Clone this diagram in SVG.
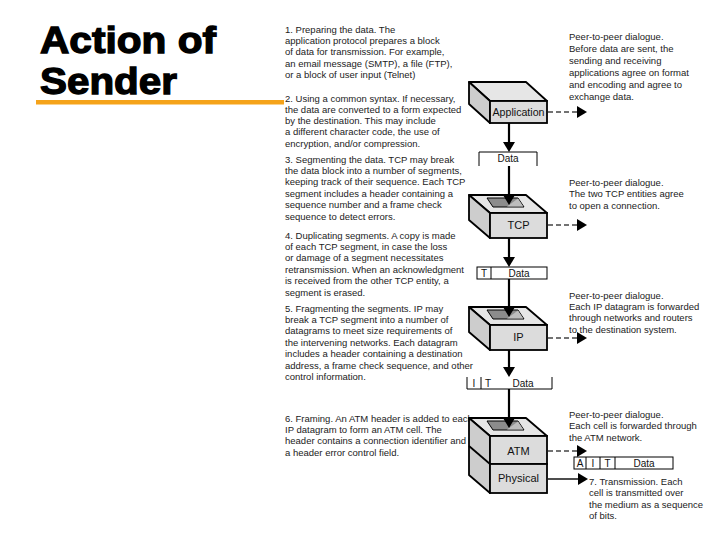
<svg xmlns="http://www.w3.org/2000/svg" width="720" height="540" viewBox="0 0 720 540">
<style>
.t{font-family:"Liberation Sans",Arial,sans-serif;font-size:9.5px;fill:#222}
.title{font-family:"Liberation Sans",Arial,sans-serif;font-size:37px;font-weight:bold;fill:#000;stroke:#000;stroke-width:1.3}
.lbl{font-family:"Liberation Sans",Arial,sans-serif;font-size:11px;fill:#111;text-anchor:middle}
.sm{font-family:"Liberation Sans",Arial,sans-serif;font-size:10px;fill:#111;text-anchor:middle}
.top{fill:#e6e6e6;stroke:#000;stroke-width:1.8;stroke-linejoin:round}
.side{fill:#cdcdcd;stroke:#000;stroke-width:1.8;stroke-linejoin:round}
.front{fill:#dcdcdc;stroke:#000;stroke-width:1.8}
.slot{fill:#8c8c8c;stroke:#000;stroke-width:1}
.slot2{fill:#bdbdbd;stroke:none}
.pkt{fill:none;stroke:#000;stroke-width:1}
.v{stroke:#000;stroke-width:2.2;fill:none}
.d{stroke:#444;stroke-width:1.6;stroke-dasharray:5 3;fill:none}
.s{stroke:#000;stroke-width:1.4;fill:none}
</style>
<defs>
<marker id="ah" markerUnits="userSpaceOnUse" markerWidth="10" markerHeight="12" refX="2" refY="6" orient="auto">
<path d="M0,0 L10,6 L0,12 z" fill="#000"/>
</marker>
</defs>
<rect width="720" height="540" fill="#fff"/>

<g id="title">
<text class="title" x="40" y="53" textLength="176" lengthAdjust="spacingAndGlyphs">Action of</text>
<text class="title" x="40" y="94" textLength="137" lengthAdjust="spacingAndGlyphs">Sender</text>
<rect x="36" y="100" width="248" height="4.5" fill="#F5A31A"/>
</g>

<g id="step1">
<text class="t" x="285" y="32.5">1. Preparing the data. The</text>
<text class="t" x="285" y="43.9">application protocol prepares a block</text>
<text class="t" x="285" y="55.3">of data for transmission. For example,</text>
<text class="t" x="285" y="66.7">an email message (SMTP), a file (FTP),</text>
<text class="t" x="285" y="78.1">or a block of user input (Telnet)</text>
</g>
<g id="step2">
<text class="t" x="285" y="101.5">2. Using a common syntax. If necessary,</text>
<text class="t" x="285" y="112.8">the data are converted to a form expected</text>
<text class="t" x="285" y="124.1">by the destination. This may include</text>
<text class="t" x="285" y="135.4">a different character code, the use of</text>
<text class="t" x="285" y="146.7">encryption, and/or compression.</text>
</g>
<g id="step3">
<text class="t" x="285" y="162.5">3. Segmenting the data. TCP may break</text>
<text class="t" x="285" y="173.9">the data block into a number of segments,</text>
<text class="t" x="285" y="185.3">keeping track of their sequence. Each TCP</text>
<text class="t" x="285" y="196.7">segment includes a header containing a</text>
<text class="t" x="285" y="208.1">sequence number and a frame check</text>
<text class="t" x="285" y="219.5">sequence to detect errors.</text>
</g>
<g id="step4">
<text class="t" x="285" y="238.5">4. Duplicating segments. A copy is made</text>
<text class="t" x="285" y="249.9">of each TCP segment, in case the loss</text>
<text class="t" x="285" y="261.3">or damage of a segment necessitates</text>
<text class="t" x="285" y="272.7">retransmission. When an acknowledgment</text>
<text class="t" x="285" y="284.1">is received from the other TCP entity, a</text>
<text class="t" x="285" y="295.5">segment is erased.</text>
</g>
<g id="step5">
<text class="t" x="285" y="311.5">5. Fragmenting the segments. IP may</text>
<text class="t" x="285" y="322.9">break a TCP segment into a number of</text>
<text class="t" x="285" y="334.3">datagrams to meet size requirements of</text>
<text class="t" x="285" y="345.7">the intervening networks. Each datagram</text>
<text class="t" x="285" y="357.1">includes a header containing a destination</text>
<text class="t" x="285" y="368.5">address, a frame check sequence, and other</text>
<text class="t" x="285" y="379.9">control information.</text>
</g>
<g id="step6">
<text class="t" x="285" y="421.5">6. Framing. An ATM header is added to each</text>
<text class="t" x="285" y="432.9">IP datagram to form an ATM cell. The</text>
<text class="t" x="285" y="444.3">header contains a connection identifier and</text>
<text class="t" x="285" y="455.7">a header error control field.</text>
</g>

<g id="peer1">
<text class="t" x="569" y="39.5">Peer-to-peer dialogue.</text>
<text class="t" x="569" y="51.5">Before data are sent, the</text>
<text class="t" x="569" y="63.5">sending and receiving</text>
<text class="t" x="569" y="75.5">applications agree on format</text>
<text class="t" x="569" y="87.5">and encoding and agree to</text>
<text class="t" x="569" y="99.5">exchange data.</text>
</g>
<g id="peer2">
<text class="t" x="569" y="185.5">Peer-to-peer dialogue.</text>
<text class="t" x="569" y="197.3">The two TCP entities agree</text>
<text class="t" x="569" y="209.1">to open a connection.</text>
</g>
<g id="peer3">
<text class="t" x="569" y="299">Peer-to-peer dialogue.</text>
<text class="t" x="569" y="310.2">Each IP datagram is forwarded</text>
<text class="t" x="569" y="321.4">through networks and routers</text>
<text class="t" x="569" y="332.6">to the destination system.</text>
</g>
<g id="peer4">
<text class="t" x="569" y="417.5">Peer-to-peer dialogue.</text>
<text class="t" x="569" y="429">Each cell is forwarded through</text>
<text class="t" x="569" y="440.5">the ATM network.</text>
</g>
<g id="step7">
<text class="t" x="589" y="484.5">7. Transmission. Each</text>
<text class="t" x="589" y="496">cell is transmitted over</text>
<text class="t" x="589" y="507.5">the medium as a sequence</text>
<text class="t" x="589" y="519">of bits.</text>
</g>

<g id="application">
<polygon class="top" points="469,82 526,82 547,101 490,101"/>
<polygon class="side" points="469,82 490,101 490,123 469,104"/>
<rect class="front" x="490" y="101" width="57" height="22"/>
<text class="lbl" x="518.5" y="116" style="font-size:10.5px" textLength="52" lengthAdjust="spacingAndGlyphs">Application</text>
</g>

<g id="data1">
<path class="pkt" d="M479,166 V152 H537 V166"/>
<text class="sm" x="508" y="162">Data</text>
</g>

<g id="tcp">
<polygon class="top" points="469,195 526,195 547,213 490,213"/>
<polygon class="side" points="469,195 490,213 490,238 469,220"/>
<rect class="front" x="490" y="213" width="57" height="25"/>
<polygon class="slot" points="487,198 518,198 524,207 493,207"/>
<polygon class="slot2" points="518,198.5 523.3,206.5 507,206.5"/>
<text class="lbl" x="518.5" y="229">TCP</text>
</g>

<g id="tdata">
<rect class="pkt" x="477" y="267" width="70" height="12"/>
<line class="pkt" x1="491" y1="267" x2="491" y2="279"/>
<text class="sm" x="484" y="276.5">T</text>
<text class="sm" x="519" y="276.5">Data</text>
</g>

<g id="ip">
<polygon class="top" points="469,307 526,307 547,325 490,325"/>
<polygon class="side" points="469,307 490,325 490,350 469,332"/>
<rect class="front" x="490" y="325" width="57" height="25"/>
<polygon class="slot" points="487,310 518,310 524,319 493,319"/>
<polygon class="slot2" points="518,310.5 523.3,318.5 507,318.5"/>
<text class="lbl" x="518.5" y="341">IP</text>
</g>

<g id="itdata">
<path class="pkt" d="M467,377 V389 H552 V377"/>
<line class="pkt" x1="481" y1="377" x2="481" y2="389"/>
<text class="sm" x="474" y="387">I</text>
<text class="sm" x="488" y="387">T</text>
<text class="sm" x="523" y="387">Data</text>
</g>

<g id="atm">
<polygon class="top" points="469,418 526,418 547,436 490,436"/>
<polygon class="side" points="469,418 490,436 490,493 469,475"/>
<line class="s" x1="469" y1="446" x2="490" y2="464" style="stroke-width:1.8"/>
<rect class="front" x="490" y="436" width="57" height="28"/>
<rect class="front" x="490" y="464" width="57" height="29"/>
<polygon class="slot" points="487,421 518,421 524,430 493,430"/>
<polygon class="slot2" points="518,421.5 523.3,429.5 507,429.5"/>
<text class="lbl" x="518.5" y="454.5">ATM</text>
<text class="lbl" x="518.5" y="482">Physical</text>
</g>

<g id="aitdata">
<rect class="pkt" x="574" y="457" width="99" height="12"/>
<line class="pkt" x1="586" y1="457" x2="586" y2="469"/>
<line class="pkt" x1="600" y1="457" x2="600" y2="469"/>
<line class="pkt" x1="615" y1="457" x2="615" y2="469"/>
<text class="sm" x="580" y="466.5">A</text>
<text class="sm" x="593" y="466.5">I</text>
<text class="sm" x="607.5" y="466.5">T</text>
<text class="sm" x="644" y="466.5">Data</text>
</g>

<g id="connectors">
<line class="v" x1="509" y1="123" x2="509" y2="144" marker-end="url(#ah)"/>
<line class="v" x1="509" y1="166" x2="509" y2="197" marker-end="url(#ah)"/>
<line class="v" x1="509" y1="238" x2="509" y2="259" marker-end="url(#ah)"/>
<line class="v" x1="509" y1="279" x2="509" y2="309" marker-end="url(#ah)"/>
<line class="v" x1="509" y1="350" x2="509" y2="369" marker-end="url(#ah)"/>
<line class="v" x1="509" y1="389" x2="509" y2="420" marker-end="url(#ah)"/>
<line class="d" x1="548" y1="112" x2="579" y2="112" marker-end="url(#ah)"/>
<line class="d" x1="548" y1="225" x2="579" y2="225" marker-end="url(#ah)"/>
<line class="d" x1="548" y1="338" x2="579" y2="338" marker-end="url(#ah)"/>
<line class="d" x1="548" y1="451" x2="579" y2="451" marker-end="url(#ah)"/>
<line class="s" x1="548" y1="479" x2="580" y2="479" marker-end="url(#ah)"/>
</g>
</svg>
